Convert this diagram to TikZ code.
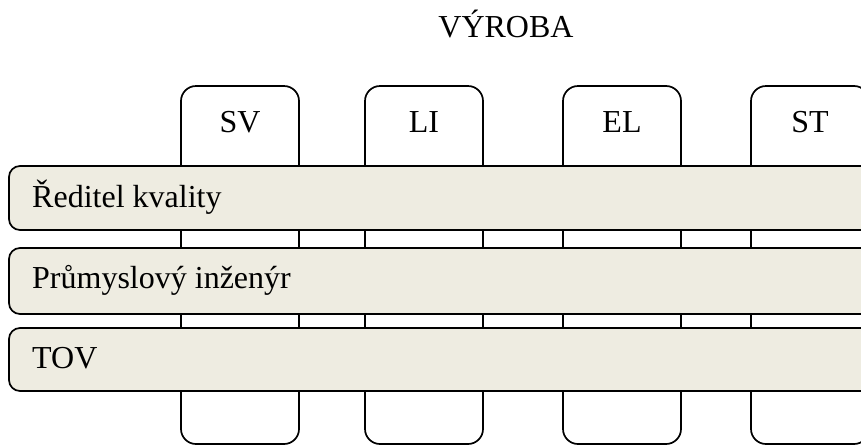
\documentclass[tikz,border=0pt]{standalone}
\usepackage{fontspec}
\setmainfont{Liberation Serif}
\definecolor{barfill}{HTML}{EEECE1}
\begin{document}
\begin{tikzpicture}[x=1pt,y=-1pt,
  colbox/.style={draw=black,line width=1.7pt,rounded corners=15pt,fill=white},
  barbox/.style={draw=black,line width=1.7pt,rounded corners=11pt,fill=barfill},
  collabel/.style={font=\fontsize{32}{38}\selectfont,anchor=base,inner sep=0pt},
  barlabel/.style={font=\fontsize{32}{38}\selectfont,anchor=base west,inner sep=0pt}]
\useasboundingbox (0,0) rectangle (861,445);
\clip (0,0) rectangle (861,445);
% columns
\draw[colbox] (181,86) rectangle (299,444);
\draw[colbox] (365,86) rectangle (483,444);
\draw[colbox] (563,86) rectangle (681,444);
\draw[colbox] (751,86) rectangle (869,444);
% bars
\draw[barbox] (9,166) rectangle (880,230);
\draw[barbox] (9,248) rectangle (880,314);
\draw[barbox] (9,328) rectangle (880,391);
% labels
\node[collabel] (title) at (506,37) {VÝROBA};
\node[collabel] (sv) at (240,132) {SV};
\node[collabel] (li) at (424,132) {LI};
\node[collabel] (el) at (622,132) {EL};
\node[collabel] (st) at (810,132) {ST};
\node[barlabel] (q) at (32,207) {Ředitel kvality};
\node[barlabel] (p) at (32,288) {Průmyslový inženýr};
\node[barlabel] (t) at (32,368) {TOV};
\end{tikzpicture}
\end{document}
